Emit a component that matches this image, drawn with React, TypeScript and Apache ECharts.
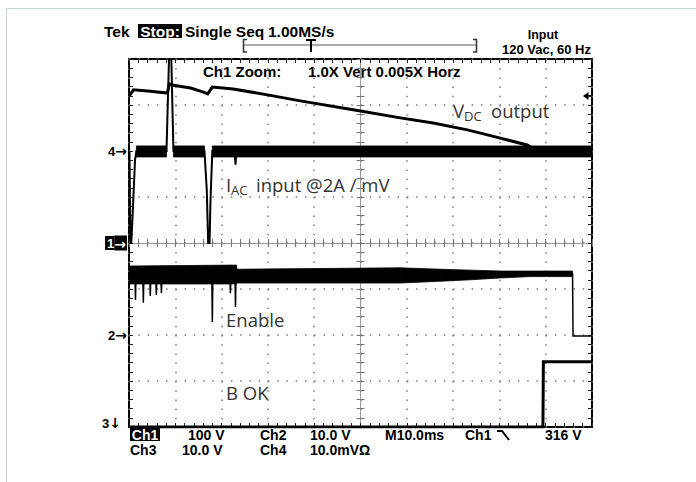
import { useEffect, useRef } from "react";
import * as echarts from "echarts";

// Time axis in ms relative to screen centre (M10.0ms / div), vertical in divisions
const timeMin = -50;
const timeMax = 50;
const divMin = -4;
const divMax = 4;

// Channel ground markers on the left edge (level in divisions, channel number)
const markerLevels = [2, 0, -2, -4];
const markerNames = ["4", "1", "2", "3"];

// VDC output (Ch1)
const vdcOutput: [number, number][] = [
  [-49.9, 3.2], [-49.05, 3.33], [-45.4, 3.3], [-41.7, 3.26], [-41.3, 3.46], [-40.4, 3.43],
  [-36.7, 3.37], [-33.9, 3.28], [-33.0, 3.24], [-32.0, 3.39], [-27.5, 3.35], [-20.1, 3.22],
  [-13.0, 3.09], [0.0, 2.87], [8.6, 2.72], [15.7, 2.61], [23.1, 2.46], [30.2, 2.28],
  [36.0, 2.13], [37.8, 2.02], [49.9, 2.02],
];

// IAC input (Ch4) thin trace with spikes
const iacInput: [number, number][] = [
  [-49.9, 2.0], [-49.7, 0.0], [-49.5, 0.0], [-49.2, 0.65], [-48.7, 1.8], [-48.4, 2.0],
  [-41.9, 2.0], [-41.2, 4.6], [-41.0, 4.6], [-40.4, 2.0], [-33.7, 2.0], [-33.2, 1.15],
  [-32.9, 0.0], [-32.6, 0.0], [-32.4, 0.93], [-32.0, 2.0], [-27.2, 2.0], [-27.0, 1.7],
  [-26.8, 2.0], [49.9, 2.0],
];
// IAC noise envelope: [time, top, bottom, segment]
const iacEnvelope: [number, number, number, number][] = [
  [-48.4, 2.11, 1.87, 1], [-41.9, 2.11, 1.87, 1],
  [-40.4, 2.11, 1.87, 2], [-33.7, 2.11, 1.87, 2],
  [-32.0, 2.11, 1.87, 3], [49.9, 2.11, 1.87, 3],
];

// Enable (Ch2) noise envelope: [time, top, bottom, segment]
const enableEnvelope: [number, number, number, number][] = [
  [-49.9, -0.5, -0.89, 1], [-26.8, -0.48, -0.89, 1], [-26.7, -0.57, -0.87, 1],
  [8.6, -0.54, -0.87, 1], [17.3, -0.57, -0.83, 1], [23.7, -0.59, -0.8, 1],
  [30.2, -0.61, -0.76, 1], [36.7, -0.61, -0.73, 1], [45.8, -0.61, -0.73, 1],
];
// Enable thin trace with downward glitches
const enableTrace: [number, number][] = [
  [-49.9, -0.8], [-48.7, -0.8], [-48.6, -1.24], [-48.5, -0.8], [-47.0, -0.8], [-46.9, -1.3],
  [-46.8, -0.8], [-45.5, -0.8], [-45.4, -1.15], [-45.3, -0.8], [-44.2, -0.8], [-44.1, -1.13],
  [-44.0, -0.8], [-43.1, -0.8], [-43.0, -1.09], [-42.9, -0.8], [-32.1, -0.8], [-32.0, -1.72],
  [-31.9, -0.8], [-28.2, -0.8], [-28.1, -1.09], [-28.0, -0.8], [-27.1, -0.8], [-27.0, -1.39],
  [-26.9, -0.8], [-26.0, -0.72], [45.8, -0.67], [45.9, -2.02], [49.9, -2.02],
];

// B OK (Ch3)
const bOk: [number, number][] = [
  [-49.9, -4.0], [39.4, -4.0], [39.5, -2.58], [49.9, -2.58],
];

const GRID = { left: 129, top: 59, width: 463, height: 368 };
const BOLD = '"Liberation Sans", Arial, "DejaVu Sans", sans-serif';
const ARROW = '"DejaVu Sans", sans-serif';
const SANS = '"Open Sans", "Noto Sans", sans-serif';

function envelopeSeries(name: string, env: [number, number, number, number][]) {
  return {
    type: "custom",
    name,
    data: env,
    encode: { x: 0, y: [1, 2] },
    silent: true,
    z: 3,
    renderItem: (params: any, api: any) => {
      const i = params.dataIndex;
      const a = env[i];
      const b = env[i + 1];
      if (!b || b[3] !== a[3]) return null;
      const p1 = api.coord([a[0], a[1]]);
      const p2 = api.coord([b[0], b[1]]);
      const p3 = api.coord([b[0], b[2]]);
      const p4 = api.coord([a[0], a[2]]);
      return {
        type: "polygon",
        shape: { points: [p1, p2, p3, p4] },
        style: { fill: "#000", stroke: "#000", lineWidth: 0.8 },
      };
    },
  };
}

function lineSeries(name: string, data: [number, number][], width: number) {
  return {
    type: "line",
    name,
    data,
    symbol: "none",
    silent: true,
    z: 4,
    clip: true,
    lineStyle: { color: "#000", width, join: "miter" },
  };
}

function txt(text: string, x: number, y: number, size: number, extra: any = {}) {
  return {
    type: "text",
    x,
    y,
    silent: true,
    style: {
      text,
      fontSize: size,
      fontFamily: BOLD,
      fontWeight: "bold",
      fill: "#000",
      align: "left",
      verticalAlign: "middle",
      ...extra,
    },
  };
}

function note(text: string, x: number, y: number, size: number) {
  return txt(text, x, y, size, { fontFamily: SANS, fontWeight: "normal", fill: "#333" });
}

const borderAxis = (position: string, dim: "x" | "y", splitLine: boolean, dash: number[]) => ({
  type: "value",
  position,
  min: dim === "x" ? timeMin : divMin,
  max: dim === "x" ? timeMax : divMax,
  interval: dim === "x" ? 10 : 1,
  axisLine: { show: false, onZero: false },
  axisTick: { show: true, inside: true, length: 4, lineStyle: { color: "#222", width: 1 } },
  minorTick: { show: true, splitNumber: 5, length: 4, lineStyle: { color: "#222", width: 1 } },
  axisLabel: { show: false },
  splitLine: { show: splitLine, lineStyle: { color: "#7a7a7a", width: 1.5, type: dash } },
});

const centreAxis = (position: string, dim: "x" | "y", inside: boolean) => ({
  type: "value",
  position,
  min: dim === "x" ? timeMin : divMin,
  max: dim === "x" ? timeMax : divMax,
  interval: dim === "x" ? 10 : 1,
  axisLine: { show: inside, onZero: true, onZeroAxisIndex: 0, lineStyle: { color: "#999", width: 1 } },
  axisTick: { show: true, inside, length: 4, lineStyle: { color: "#777", width: 1 } },
  minorTick: { show: true, splitNumber: 5, length: 4, lineStyle: { color: "#777", width: 1 } },
  axisLabel: { show: false },
  splitLine: { show: false },
});

export default function App() {
  const ref = useRef<HTMLDivElement>(null);
  useEffect(() => {
    document.body.style.margin = "0";
    const chart = echarts.init(ref.current!, null, { renderer: "svg", width: 696, height: 482 });

    const numStyle = { fontFamily: BOLD, fontWeight: "bold", fontSize: 13, lineHeight: 13, color: "#000" };
    const arrStyle = { fontFamily: ARROW, fontWeight: "bold", fontSize: 14, lineHeight: 13, color: "#000" };
    const leftAxis: any = borderAxis("left", "y", true, [1.5, 7.76]);
    leftAxis.axisLabel = {
      show: true,
      margin: 2,
      ...numStyle,
      formatter: (v: number) => {
        const i = markerLevels.indexOf(v);
        if (i < 0) return "";
        const name = markerNames[i];
        if (v === 0) return `{inv|${name}}{inva|→}`;
        if (v === divMin) return `{low|${name}}{lowa|↓}`;
        return `{n|${name}}{a|→}`;
      },
      rich: {
        n: { ...numStyle },
        a: { ...arrStyle },
        inv: { ...numStyle, backgroundColor: "#000", color: "#fff", padding: [1, 0, 0, 2] },
        inva: { ...arrStyle, backgroundColor: "#000", color: "#fff", padding: [1, 1, 0, 0] },
        low: { ...numStyle, padding: [0, 0, 8, 0] },
        lowa: { ...arrStyle, padding: [0, 6, 8, 0] },
      },
    };

    const option: any = {
      animation: false,
      backgroundColor: "#fff",
      grid: { ...GRID, show: true, borderColor: "#000", borderWidth: 2, backgroundColor: "transparent" },
      xAxis: [
        borderAxis("bottom", "x", true, [1.5, 7.7]),
        borderAxis("top", "x", false, [1]),
        centreAxis("bottom", "x", true),
        centreAxis("bottom", "x", false),
      ],
      yAxis: [
        leftAxis,
        borderAxis("right", "y", false, [1]),
        centreAxis("left", "y", true),
        centreAxis("left", "y", false),
      ],
      series: [
        envelopeSeries("Enable envelope", enableEnvelope),
        envelopeSeries("IAC envelope", iacEnvelope),
        lineSeries("Enable", enableTrace, 1.5),
        lineSeries("IAC input", iacInput, 2),
        lineSeries("VDC output", vdcOutput, 3),
        lineSeries("B OK", bOk, 3),
      ],
      graphic: [
        { type: "rect", silent: true, shape: { x: 6.5, y: 8.5, width: 1200, height: 1200 }, style: { fill: "none", stroke: "#c3d7dc", lineWidth: 1 } },
        txt("Tek", 104, 31, 15.5),
        { type: "rect", silent: true, shape: { x: 138, y: 24, width: 44, height: 14 }, style: { fill: "#000" } },
        txt("Stop:", 160, 31, 15.5, { fill: "#fff", align: "center" }),
        txt("Single Seq", 185, 31, 15.5),
        txt("1.00MS/s", 268, 31, 15.5),
        txt("Input", 543, 35, 12.5, { align: "center" }),
        txt("120 Vac, 60 Hz", 502, 49.5, 13),
        { type: "line", silent: true, shape: { x1: 244, y1: 45, x2: 476, y2: 45 }, style: { stroke: "#555", lineWidth: 1 } },
        { type: "polyline", silent: true, shape: { points: [[247, 39.5], [243.5, 39.5], [243.5, 52], [247, 52]] }, style: { stroke: "#333", lineWidth: 1.5, fill: "none" } },
        { type: "polyline", silent: true, shape: { points: [[473, 39.5], [476.5, 39.5], [476.5, 52], [473, 52]] }, style: { stroke: "#333", lineWidth: 1.5, fill: "none" } },
        { type: "line", silent: true, shape: { x1: 306, y1: 40, x2: 316, y2: 40 }, style: { stroke: "#000", lineWidth: 2 } },
        { type: "line", silent: true, shape: { x1: 311, y1: 40, x2: 311, y2: 52 }, style: { stroke: "#000", lineWidth: 2 } },
        txt("Ch1 Zoom:", 203, 71.5, 15),
        txt("1.0X Vert 0.005X Horz", 308, 71.5, 15),
        { type: "polygon", silent: true, shape: { points: [[583, 96], [588.5, 92], [588.5, 100]] }, style: { fill: "#000" } },
        { type: "line", silent: true, shape: { x1: 588, y1: 96, x2: 592, y2: 96 }, style: { stroke: "#000", lineWidth: 2 } },
        { type: "rect", silent: true, shape: { x: 130, y: 427, width: 30, height: 14 }, style: { fill: "#000" } },
        txt("Ch1", 145, 435, 14, { fill: "#fff", align: "center" }),
        txt("100 V", 188, 435, 14),
        txt("Ch2", 260, 435, 14),
        txt("10.0 V", 310, 435, 14),
        txt("M10.0ms", 385, 435, 14),
        txt("Ch1", 465, 435, 14),
        { type: "polyline", silent: true, shape: { points: [[497, 431], [502, 431], [509, 440]] }, style: { stroke: "#000", lineWidth: 2, fill: "none" } },
        txt("316 V", 545, 435, 14),
        txt("Ch3", 130, 450, 14),
        txt("10.0 V", 182, 450, 14),
        txt("Ch4", 260, 450, 14),
        txt("10.0mVΩ", 310, 450, 14),
        note("V", 453, 110, 18.5),
        note("DC", 464, 116, 13),
        note("output", 491, 110, 18.5),
        note("I", 226, 184, 18.5),
        note("AC", 231, 190, 13),
        note("input @2A / mV", 256, 184, 18.5),
        note("Enable", 226, 319, 18.5),
        note("B OK", 226, 392, 18.5),
      ],
    };
    chart.setOption(option);
    return () => chart.dispose();
  }, []);
  return (
    <div
      ref={ref}
      style={{ position: "fixed", left: 0, top: 0, width: 696, height: 482, background: "#fff" }}
    />
  );
}
